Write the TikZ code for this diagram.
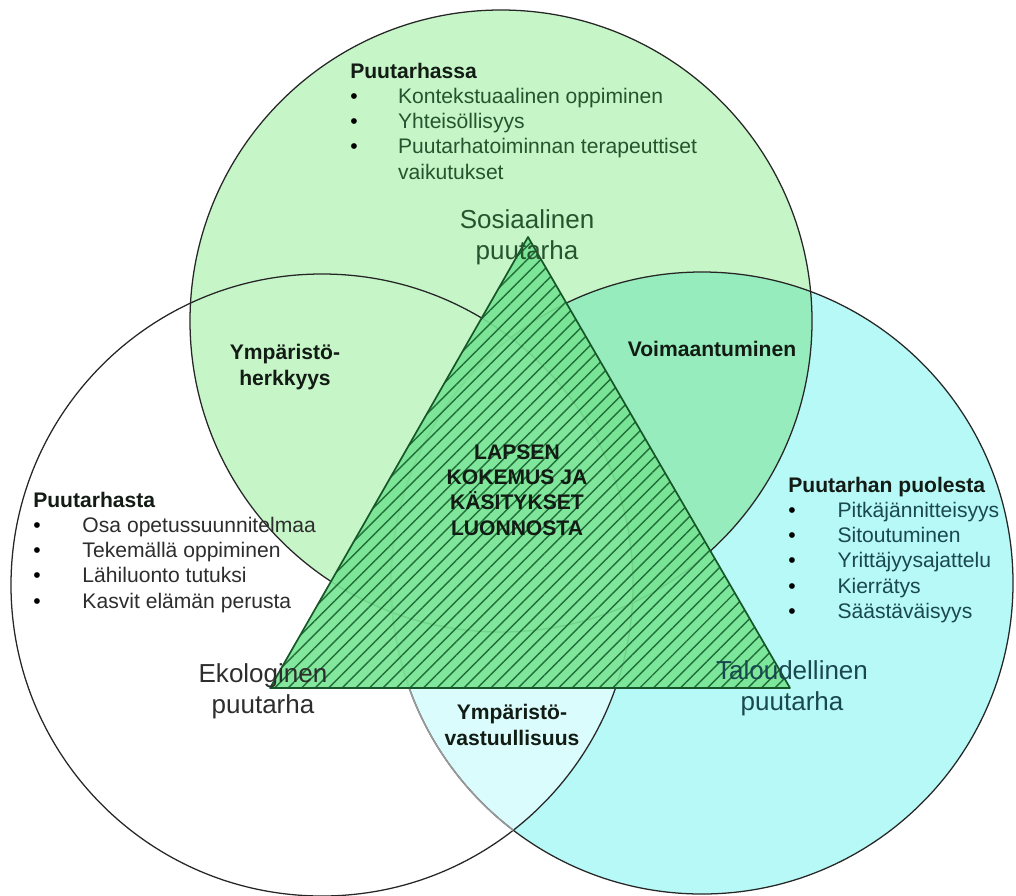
\documentclass[tikz,border=0pt]{standalone}
\usepackage{fontspec}
\setmainfont{Liberation Sans}
\usetikzlibrary{patterns.meta}
\definecolor{sosfill}{RGB}{198,245,200}
\definecolor{talfill}{RGB}{183,249,247}
\definecolor{mixfill}{RGB}{150,236,188}
\definecolor{lensfill}{RGB}{218,252,252}
\definecolor{corefill}{RGB}{118,228,146}
\definecolor{hatch}{RGB}{32,110,56}
\definecolor{coreline}{RGB}{22,86,40}
\definecolor{sostext}{RGB}{38,84,46}
\definecolor{taltext}{RGB}{26,72,80}
\definecolor{ekotext}{RGB}{45,45,45}
\definecolor{headtext}{RGB}{18,28,20}
\newcommand{\bul}{\makebox[34pt][l]{\color{black}\textbullet}}
\tikzset{
  ring/.style={
    draw=black!85,
    line width=0.9pt
  },
  listbox/.style={
    inner sep=0pt,
    anchor=base west,
    font=\fontsize{15}{18}\selectfont
  },
  region/.style={
    inner sep=0pt,
    anchor=base,
    align=center,
    text=headtext,
    font=\fontsize{15}{17.8}\selectfont\bfseries
  },
  vertex/.style={
    inner sep=0pt,
    anchor=base,
    align=center,
    font=\fontsize{18.5}{21.5}\selectfont
  }
}

\begin{document}
\begin{tikzpicture}[x=0.025cm, y=-0.025cm]
  \useasboundingbox (0,0) rectangle (1016,895);

  % circle centres
  \coordinate (sos) at (501,321);
  \coordinate (eko) at (322,585);
  \coordinate (tal) at (702,583);

  \fill[sosfill] (sos) circle (311);
  \fill[talfill] (tal) circle (311);
  \begin{scope}
    \clip (sos) circle (311);
    \fill[mixfill] (tal) circle (311);
  \end{scope}
  \begin{scope}
    \clip (eko) circle (311);
    \fill[lensfill] (tal) circle (311);
  \end{scope}

  \draw[ring] (sos) circle (311);
  \draw[ring] (eko) circle (311);
  \draw[ring] (tal) circle (311);
  \begin{scope}
    \clip (eko) circle (311);
    \draw[ring, draw=black!40, line width=1.1pt] (tal) circle (311);
  \end{scope}

  % triangle
  \coordinate (ta) at (528,237);
  \coordinate (tl) at (270,688);
  \coordinate (tr) at (790,688);
  \fill[corefill, fill opacity=0.9] (ta) -- (tl) -- (tr) -- cycle;
  \path[pattern={Lines[angle=45,distance=6.8pt,line width=1pt]}, pattern color=hatch]
    (ta) -- (tl) -- (tr) -- cycle;
  \draw[coreline, line width=1.2pt, line join=round] (ta) -- (tl) -- (tr) -- cycle;

  % lists
  \node[listbox, text=sostext] (puutarhassa) at (350,78) {%
    \begin{tabular}[t]{@{}l@{}l}
      \multicolumn{2}{@{}l}{\bfseries\color{headtext}Puutarhassa}\\
      \bul & Kontekstuaalinen oppiminen\\
      \bul & Yhteisöllisyys\\
      \bul & Puutarhatoiminnan terapeuttiset\\
           & vaikutukset
    \end{tabular}};

  \node[listbox, text=ekotext] (puutarhasta) at (33,507) {%
    \begin{tabular}[t]{@{}l@{\hspace{1pt}}l}
      \multicolumn{2}{@{}l}{\bfseries\color{headtext}Puutarhasta}\\
      \bul & Osa opetussuunnitelmaa\\
      \bul & Tekemällä oppiminen\\
      \bul & Lähiluonto tutuksi\\
      \bul & Kasvit elämän perusta
    \end{tabular}};

  \node[listbox, text=taltext] (puolesta) at (788,492) {%
    \begin{tabular}[t]{@{}l@{\hspace{1pt}}l}
      \multicolumn{2}{@{}l}{\bfseries\color{headtext}Puutarhan puolesta}\\
      \bul & Pitkäjännitteisyys\\
      \bul & Sitoutuminen\\
      \bul & Yrittäjyysajattelu\\
      \bul & Kierrätys\\
      \bul & Säästäväisyys
    \end{tabular}};

  % overlaps
  \node[region] (herkkyys) at (285,385) {Ympäristö-\\herkkyys};
  \node[region] (voima) at (712,356) {Voimaantuminen};
  \node[region] (vastuu) at (512,745) {Ympäristö-\\vastuullisuus};
  \node[region] (lapsen) at (517,535) {LAPSEN\\KOKEMUS JA\\KÄSITYKSET\\LUONNOSTA};

  % corners
  \node[vertex, text=sostext] (sosiaalinen) at (527,259) {Sosiaalinen\\puutarha};
  \node[vertex, text=ekotext] (ekologinen) at (263,713) {Ekologinen\\puutarha};
  \node[vertex, text=taltext] (taloudellinen) at (792,710) {Taloudellinen\\puutarha};

\end{tikzpicture}
\end{document}
